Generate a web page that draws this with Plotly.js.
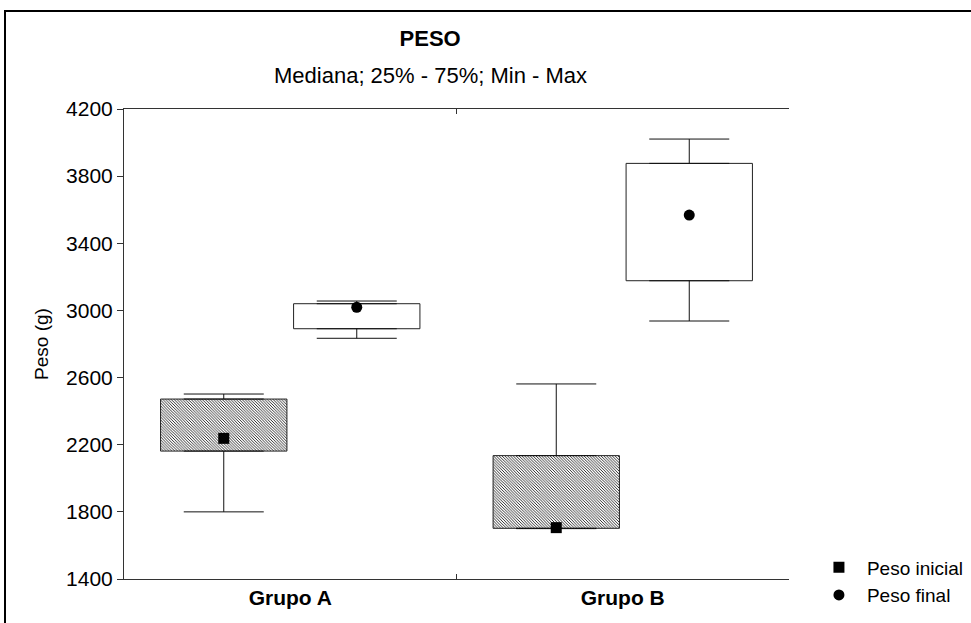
<!DOCTYPE html>
<html><head><meta charset="utf-8">
<script src="https://cdn.plot.ly/plotly-3.0.1.min.js"></script>
<style>
html,body{margin:0;padding:0;background:#fff;overflow:hidden;}
#chart{width:971px;height:623px;}
#frame{position:absolute;left:4px;top:10px;width:1100px;height:800px;border-top:2px solid #000;border-left:2px solid #000;pointer-events:none;}
</style></head><body>
<div id="chart"></div><div id="frame"></div>
<script>
const groups = ['Grupo A', 'Grupo B'];
const seriesNames = ['Peso inicial', 'Peso final'];
const inicialMin = [1800, 1700];
const inicialQ1 = [2162, 1702];
const inicialMedian = [2238, 1706];
const inicialQ3 = [2472, 2135];
const inicialMax = [2502, 2562];
const finalMin = [2834, 2937];
const finalQ1 = [2891, 3177];
const finalMedian = [3019, 3568];
const finalQ3 = [3040, 3876];
const finalMax = [3056, 4021];
const yTicks = [1400, 1800, 2200, 2600, 3000, 3400, 3800, 4200];
const titleText = 'PESO';
const subtitleText = 'Mediana; 25% - 75%; Min - Max';

const FONT = 'Liberation Sans, Arial, sans-serif';

function seriesTraces(name, grp, mn, q1, md, q3, mx, symbol, hatched) {
  const zeros = q1.map(() => 0);
  const bar = {
    type: 'bar', x: groups, base: q1, y: q3.map((v, i) => v - q1[i]),
    offsetgroup: grp, showlegend: false, hoverinfo: 'skip',
    marker: {
      color: '#ffffff',
      line: {color: '#222', width: 1},
      pattern: hatched ? {shape: '\\', size: 2, solidity: 0.4, fgcolor: '#000', bgcolor: '#fff', fillmode: 'replace'} : {shape: ''}
    }
  };
  const whiskerStyle = {type: 'data', symmetric: false, width: 40, thickness: 1, color: '#111'};
  const upper = {
    type: 'scatter', mode: 'markers', x: groups, y: q3, offsetgroup: grp,
    showlegend: false, hoverinfo: 'skip', marker: {size: 1, color: 'rgba(0,0,0,0)'},
    error_y: Object.assign({}, whiskerStyle, {array: mx.map((v, i) => v - q3[i]), arrayminus: zeros})
  };
  const lower = {
    type: 'scatter', mode: 'markers', x: groups, y: q1, offsetgroup: grp,
    showlegend: false, hoverinfo: 'skip', marker: {size: 1, color: 'rgba(0,0,0,0)'},
    error_y: Object.assign({}, whiskerStyle, {array: zeros, arrayminus: q1.map((v, i) => v - mn[i])})
  };
  const med = {
    type: 'scatter', mode: 'markers', name: name, x: groups, y: md, offsetgroup: grp,
    marker: {symbol: symbol, size: 11, color: '#000'}
  };
  return [bar, upper, lower, med];
}

const data = [].concat(
  seriesTraces(seriesNames[0], 'inicial', inicialMin, inicialQ1, inicialMedian, inicialQ3, inicialMax, 'square', true),
  seriesTraces(seriesNames[1], 'final', finalMin, finalQ1, finalMedian, finalQ3, finalMax, 'circle', false)
);

const layout = {
  width: 971, height: 623,
  paper_bgcolor: '#fff', plot_bgcolor: '#fff',
  margin: {l: 124, r: 182, t: 109, b: 44, autoexpand: false},
  font: {family: FONT, size: 20, color: '#000'},
  barmode: 'group', bargap: 0.2, bargroupgap: 0.05,
  scattermode: 'group', scattergap: 0.2,
  title: {
    text: titleText, font: {family: FONT, size: 22, weight: 'bold', color: '#000'},
    x: 0.443, xref: 'container', xanchor: 'center', y: 1 - 38 / 623, yref: 'container', yanchor: 'middle'
  },
  annotations: [{
    text: subtitleText, xref: 'paper', yref: 'paper', x: (430 - 124) / 665, y: (579 - 75) / 470,
    xanchor: 'center', yanchor: 'middle', showarrow: false,
    font: {family: FONT, size: 22, color: '#000'}
  }],
  xaxis: {
    type: 'category', categoryorder: 'array', categoryarray: groups, range: [-0.5, 1.5],
    showline: true, linecolor: '#333', linewidth: 1, mirror: 'ticks',
    tickson: 'boundaries', ticks: 'inside', ticklen: 5, tickcolor: '#333',
    showgrid: false, zeroline: false,
    tickfont: {family: FONT, size: 21, weight: 'bold', color: '#000'}
  },
  yaxis: {
    range: [1400, 4200], tickvals: yTicks, ticktext: yTicks.map(String),
    showline: true, linecolor: '#333', linewidth: 1,
    ticks: 'outside', ticklen: 6, tickcolor: '#333',
    showgrid: false, zeroline: false,
    tickfont: {family: FONT, size: 21, color: '#000'},
    title: {text: 'Peso (g)', font: {family: FONT, size: 19, color: '#000'}, standoff: 12}
  },
  yaxis2: {
    overlaying: 'y', side: 'right', anchor: 'x', range: [1400, 4200], tickvals: yTicks,
    showticklabels: false, showline: true, linecolor: '#333', linewidth: 1,
    ticks: 'inside', ticklen: 5, tickcolor: '#333', showgrid: false, zeroline: false
  },
  legend: {
    x: 1.033, xanchor: 'left', y: -0.005, yanchor: 'middle', yref: 'paper',
    font: {family: FONT, size: 19, color: '#000'}, bgcolor: 'rgba(0,0,0,0)',
    tracegroupgap: 0, itemwidth: 46
  },
  showlegend: true
};

Plotly.newPlot('chart', data, layout, {displayModeBar: false, staticPlot: true});
</script>
</body></html>
